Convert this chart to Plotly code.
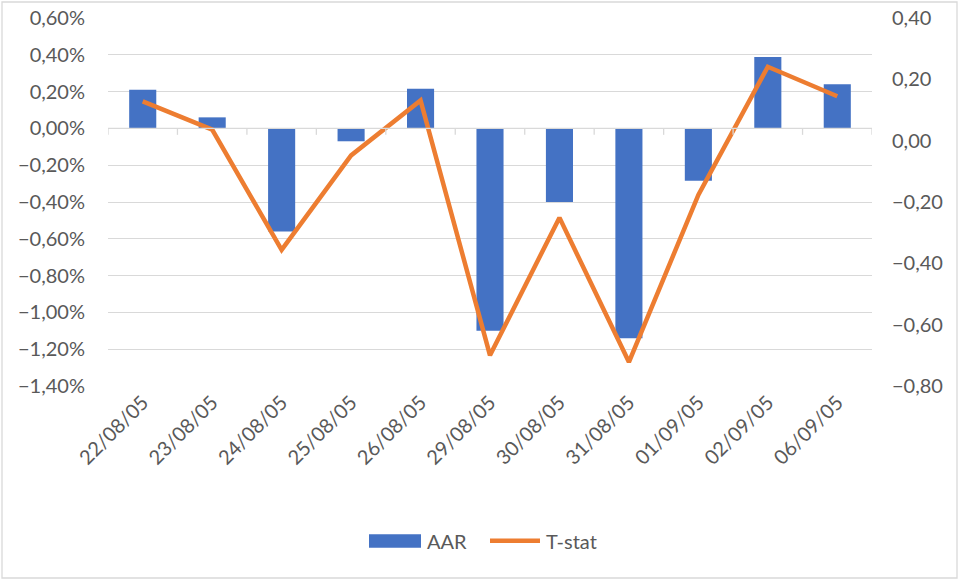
import plotly.graph_objects as go

categories = ["22/08/05", "23/08/05", "24/08/05", "25/08/05", "26/08/05", "29/08/05",
              "30/08/05", "31/08/05", "01/09/05", "02/09/05", "06/09/05"]
aar = [0.0021, 0.0006, -0.0056, -0.0007, 0.00215, -0.0110, -0.0040, -0.0114, -0.00285, 0.00388, 0.0024]
tstat = [0.128, 0.036, -0.356, -0.048, 0.131, -0.700, -0.251, -0.722, -0.177, 0.241, 0.145]
series_names = ["AAR", "T-stat"]

left_ticks = [0.006, 0.004, 0.002, 0.0, -0.002, -0.004, -0.006, -0.008, -0.010, -0.012, -0.014]
right_ticks = [0.4, 0.2, 0.0, -0.2, -0.4, -0.6, -0.8]

FONT = "Lato, Carlito, Calibri, sans-serif"
GRAY = "#595959"
BLUE = "#4472C4"
ORANGE = "#ED7D31"
FS = 20

# plot area in pixels
L, R, T, B = 108, 872, 18, 386
W, H = R - L, B - T
def px(x):
    return (x - L) / W
def py(y):
    return (B - y) / H

fig = go.Figure()
fig.add_trace(go.Bar(x=categories, y=aar, name=series_names[0], marker_color=BLUE,
                     marker_line_width=0, yaxis="y"))
fig.add_trace(go.Scatter(x=categories, y=tstat, name=series_names[1], mode="lines",
                         line=dict(color=ORANGE, width=4.5), yaxis="y2"))

n = len(categories)
shapes = []
# tick marks on the category axis along the zero line
for i in range(n + 1):
    shapes.append(dict(type="line", xref="x", yref="y", x0=i - 0.5, x1=i - 0.5,
                       y0=0, y1=-0.00035, line=dict(color="#d9d9d9", width=1.3)))
shapes.append(dict(type="line", xref="x", yref="y", x0=-0.5, x1=n - 0.5, y0=0, y1=0,
                   line=dict(color="#d9d9d9", width=1.3)))
# chart border
shapes.append(dict(type="rect", xref="paper", yref="paper", x0=px(2), x1=px(957),
                   y0=py(578), y1=py(2), line=dict(color="#d9d9d9", width=1.3),
                   fillcolor="rgba(0,0,0,0)", layer="below"))
# manual legend
shapes.append(dict(type="rect", xref="paper", yref="paper", x0=px(369), x1=px(421),
                   y0=py(547.7), y1=py(534.3), fillcolor=BLUE, line=dict(width=0)))
shapes.append(dict(type="line", xref="paper", yref="paper", x0=px(490), x1=px(540),
                   y0=py(540.7), y1=py(540.7), line=dict(color=ORANGE, width=4.5)))
annotations = [
    dict(xref="paper", yref="paper", x=px(425), y=py(540.5), text=series_names[0],
         showarrow=False, xanchor="left", yanchor="middle",
         font=dict(family=FONT, size=FS, color=GRAY)),
    dict(xref="paper", yref="paper", x=px(544), y=py(540.5), text=series_names[1],
         showarrow=False, xanchor="left", yanchor="middle",
         font=dict(family=FONT, size=FS, color=GRAY)),
]

fig.update_layout(
    width=960, height=581,
    margin=dict(l=L, r=960 - R, t=T, b=581 - B, autoexpand=False),
    paper_bgcolor="white", plot_bgcolor="white",
    separators=",.",
    font=dict(family=FONT, size=FS, color=GRAY),
    bargap=0.61,
    showlegend=False,
    xaxis=dict(type="category", tickangle=-45, showgrid=False, ticks="", showline=False,
               zeroline=False, tickfont=dict(size=FS, color=GRAY), range=[-0.5, n - 0.5],
               automargin=False),
    yaxis=dict(range=[-0.014, 0.006], tickvals=left_ticks, tickformat=".2%",
               showgrid=True, gridcolor="#d9d9d9", gridwidth=1.3, zeroline=False,
               showline=False, ticks="", ticklabelstandoff=22, automargin=False,
               tickfont=dict(size=FS, color=GRAY)),
    yaxis2=dict(range=[-0.8, 0.4], tickvals=right_ticks, tickformat=".2f",
                overlaying="y", side="right", showgrid=False, zeroline=False,
                showline=False, ticks="", ticklabelstandoff=19, automargin=False,
                tickfont=dict(size=FS, color=GRAY)),
    shapes=shapes,
    annotations=annotations,
)

fig.write_html("out.html")
